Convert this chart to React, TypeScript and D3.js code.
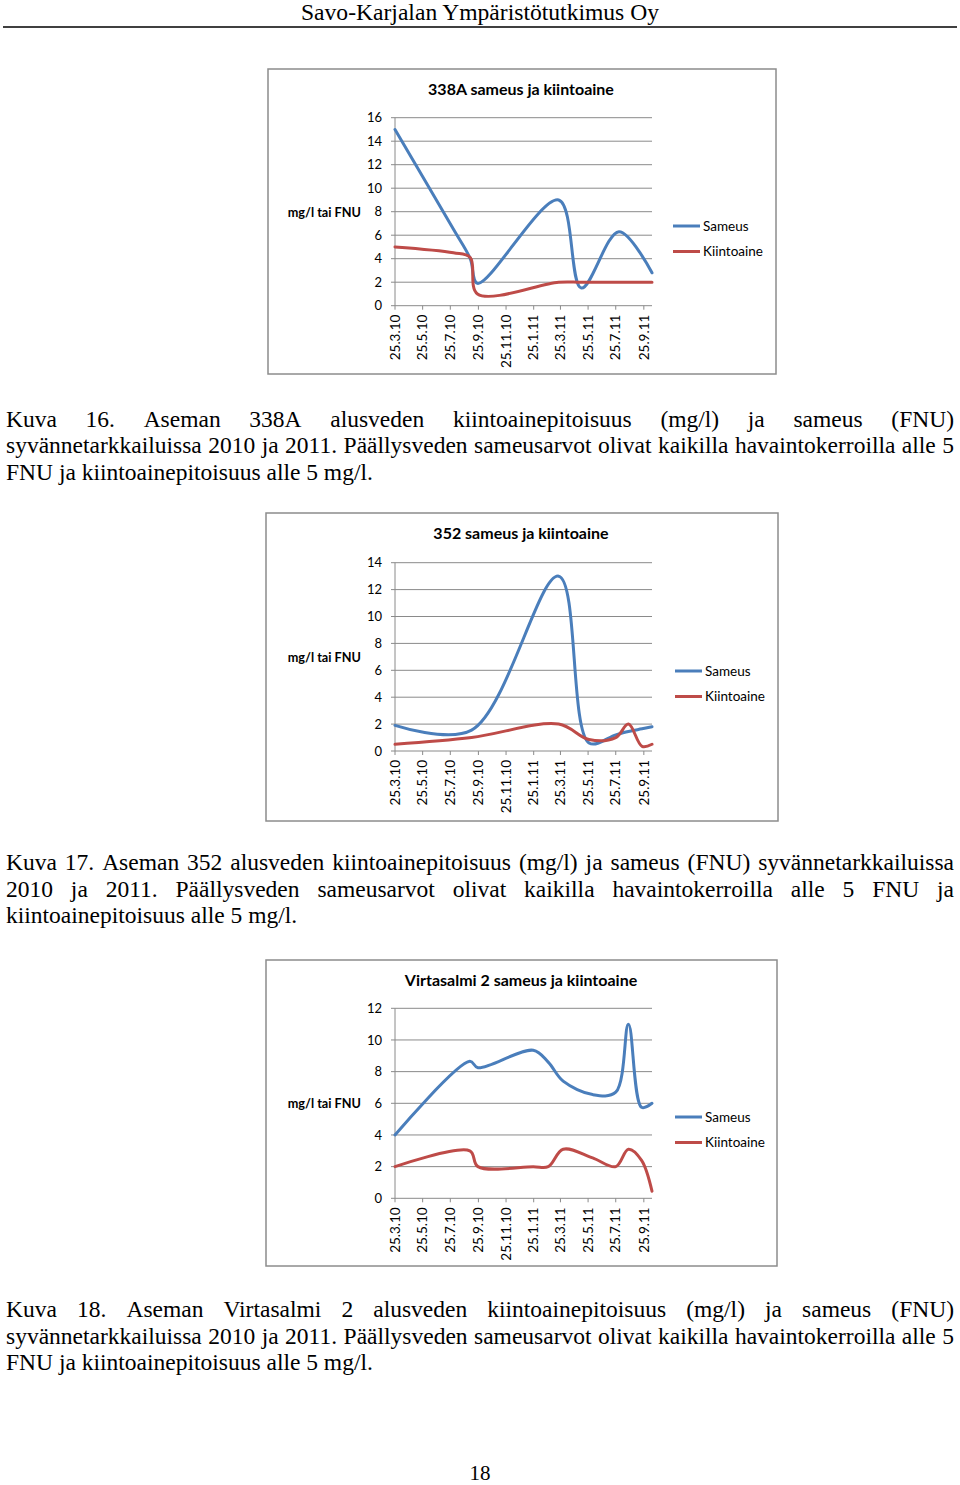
import React from "react";
import * as d3 from "d3";

// ---------- DATA ----------
const tickLabels = ["25.3.10", "25.5.10", "25.7.10", "25.9.10", "25.11.10", "25.1.11", "25.3.11", "25.5.11", "25.7.11", "25.9.11"];
const axisStart = "25.3.10";
const axisEnd = "13.10.11";
const seriesNames = ["Sameus", "Kiintoaine"];

const dates338A = ["25.3.10", "1.8.10", "7.9.10", "23.9.10", "21.3.11", "10.5.11", "1.8.11", "13.10.11"];
const sameus338A = [15.0, 6.5, 4.0, 1.9, 9.0, 1.5, 6.3, 2.8];
const kiinto338A = [5.0, 4.5, 4.1, 1.0, 2.0, 2.0, 2.0, 2.0];

const dates352 = ["25.3.10", "10.9.10", "21.3.11", "27.5.11", "25.7.11", "22.8.11", "21.9.11", "13.10.11"];
const sameus352 = [1.9, 1.55, 13.0, 0.6, 1.2, 1.45, 1.65, 1.8];
const kiinto352 = [0.5, 1.0, 2.0, 0.85, 1.0, 2.0, 0.35, 0.5];

const datesV2 = ["25.3.10", "6.9.10", "24.9.10", "24.1.11", "26.2.11", "31.3.11", "4.6.11", "25.7.11", "22.8.11", "20.9.11", "13.10.11"];
const sameusV2 = [4.0, 8.65, 8.25, 9.35, 8.6, 7.4, 6.55, 6.7, 11.0, 5.75, 6.0];
const kiintoV2 = [2.0, 3.0, 2.0, 2.0, 2.0, 3.1, 2.55, 2.0, 3.1, 2.4, 0.45];

const headerText = "Savo-Karjalan Ympäristötutkimus Oy";
const caption16 = [
  "Kuva 16. Aseman 338A alusveden kiintoainepitoisuus (mg/l) ja sameus (FNU)",
  "syvännetarkkailuissa 2010 ja 2011. Päällysveden sameusarvot olivat kaikilla havaintokerroilla alle 5",
  "FNU ja kiintoainepitoisuus alle 5 mg/l.",
];
const caption17 = [
  "Kuva 17. Aseman 352 alusveden kiintoainepitoisuus (mg/l) ja sameus (FNU) syvännetarkkailuissa",
  "2010 ja 2011. Päällysveden sameusarvot olivat kaikilla havaintokerroilla alle 5 FNU ja",
  "kiintoainepitoisuus alle 5 mg/l.",
];
const caption18 = [
  "Kuva 18. Aseman Virtasalmi 2 alusveden kiintoainepitoisuus (mg/l) ja sameus (FNU)",
  "syvännetarkkailuissa 2010 ja 2011. Päällysveden sameusarvot olivat kaikilla havaintokerroilla alle 5",
  "FNU ja kiintoainepitoisuus alle 5 mg/l.",
];
const pageNumber = "18";

// ---------- HELPERS ----------
const parseDate = (s: string) => {
  const [d, m, y] = s.split(".").map(Number);
  return new Date(2000 + y, m - 1, d);
};

const SERIF = "'Liberation Serif', 'Times New Roman', serif";
const SANS = "Lato, 'Open Sans', sans-serif";
const BLUE = "#4a7ebb";
const RED = "#be4b48";
const GRID = "#8a8a8a";

let _ctx: CanvasRenderingContext2D | null = null;
function textWidth(t: string, size: number, family: string) {
  if (!_ctx) _ctx = document.createElement("canvas").getContext("2d");
  _ctx!.font = `${size}px ${family}`;
  return _ctx!.measureText(t).width;
}

type ChartProps = {
  title: string;
  dates: string[];
  s1: number[];
  s2: number[];
  yMax: number;
  box: { x: number; y: number; w: number; h: number };
  y0: number;
  yTop: number;
  titleY: number;
  yTitleY: number;
  legendX: number;
  legendY: number;
};

function Chart(p: ChartProps) {
  const x0 = 395;
  const x1 = 652;
  const x = d3.scaleTime().domain([parseDate(axisStart), parseDate(axisEnd)]).range([x0, x1]);
  const y = d3.scaleLinear().domain([0, p.yMax]).range([p.y0, p.yTop]);
  const yTicks = d3.range(0, p.yMax + 0.001, 2);
  const pts1: [Date, number][] = p.dates.map((d, i) => [parseDate(d), p.s1[i]]);
  const pts2: [Date, number][] = p.dates.map((d, i) => [parseDate(d), p.s2[i]]);
  const line = d3
    .line<[Date, number]>()
    .x((d) => x(d[0]))
    .y((d) => y(d[1]))
    .curve(d3.curveCatmullRom.alpha(0.5));
  return (
    <g>
      <rect x={p.box.x} y={p.box.y} width={p.box.w} height={p.box.h} fill="#fff" stroke="#8c8c8c" strokeWidth={1.5} />
      <text x={521} y={p.titleY} textAnchor="middle" fontFamily={SANS} fontWeight="bold" fontSize={16} fill="#000">
        {p.title}
      </text>
      {yTicks.map((t) => (
        <g key={t}>
          <line x1={391} x2={x1} y1={y(t)} y2={y(t)} stroke={GRID} strokeWidth={1} />
          <text x={382} y={y(t)} dy="0.35em" textAnchor="end" fontFamily={SANS} fontSize={13} fill="#000">
            {t}
          </text>
        </g>
      ))}
      <line x1={x0} x2={x0} y1={p.yTop} y2={p.y0} stroke={GRID} strokeWidth={1} />
      {tickLabels.map((t) => {
        const tx = x(parseDate(t));
        return (
          <g key={t}>
            <line x1={tx} x2={tx} y1={p.y0} y2={p.y0 + 4} stroke={GRID} strokeWidth={1} />
            <text
              transform={`translate(${tx},${p.y0 + 9}) rotate(-90)`}
              dy="0.35em"
              textAnchor="end"
              fontFamily={SANS}
              fontSize={13.5}
              fill="#000"
            >
              {t}
            </text>
          </g>
        );
      })}
      <text x={361} y={p.yTitleY} dy="0.35em" textAnchor="end" fontFamily={SANS} fontWeight="bold" fontSize={12.7} fill="#000">
        mg/l tai FNU
      </text>
      <path d={line(pts1) || ""} fill="none" stroke={BLUE} strokeWidth={3} strokeLinecap="round" strokeLinejoin="round" />
      <path d={line(pts2) || ""} fill="none" stroke={RED} strokeWidth={3} strokeLinecap="round" strokeLinejoin="round" />
      {seriesNames.map((n, i) => (
        <g key={n}>
          <line
            x1={p.legendX}
            x2={p.legendX + 27}
            y1={p.legendY + i * 25.5}
            y2={p.legendY + i * 25.5}
            stroke={i === 0 ? BLUE : RED}
            strokeWidth={3}
          />
          <text x={p.legendX + 30} y={p.legendY + i * 25.5} dy="0.35em" fontFamily={SANS} fontSize={13.5} fill="#000">
            {n}
          </text>
        </g>
      ))}
    </g>
  );
}

function Caption({ lines, baselines, size, condensed }: { lines: string[]; baselines: number[]; size: number; condensed: boolean }) {
  const left = 6;
  const right = 954;
  const sx = condensed ? Math.min(1, (right - left) / textWidth(lines[0], size, SERIF)) : 1;
  return (
    <g>
      {lines.map((ln, li) => {
        const words = ln.split(" ");
        const widths = words.map((w) => textWidth(w, size, SERIF) * sx);
        const sum = widths.reduce((a, b) => a + b, 0);
        const justify = li < lines.length - 1;
        const gap = justify ? (right - left - sum) / (words.length - 1) : textWidth(" ", size, SERIF) * sx;
        let cx = left;
        return words.map((w, wi) => {
          const px = cx;
          cx += widths[wi] + gap;
          return (
            <text
              key={`${li}-${wi}`}
              transform={`translate(${px},${baselines[li]}) scale(${sx},1)`}
              fontFamily={SERIF}
              fontSize={size}
              fill="#000"
            >
              {w}
            </text>
          );
        });
      })}
    </g>
  );
}

export default function App() {
  const capSize = 367 / textWidth(caption16[2], 1, SERIF);
  return (
    <div style={{ position: "absolute", left: 0, top: 0 }}>
      <svg width={960} height={1485} style={{ display: "block", background: "#fff" }}>
        <rect x={0} y={0} width={960} height={1485} fill="#fff" />
        <text x={480} y={20} textAnchor="middle" fontFamily={SERIF} fontSize={24} textLength={358} lengthAdjust="spacingAndGlyphs" fill="#000">
          {headerText}
        </text>
        <line x1={3} x2={957} y1={27} y2={27} stroke="#000" strokeWidth={1.5} />

        <Chart
          title="338A sameus ja kiintoaine"
          dates={dates338A}
          s1={sameus338A}
          s2={kiinto338A}
          yMax={16}
          box={{ x: 268, y: 69, w: 508, h: 305 }}
          y0={305.7}
          yTop={117.7}
          titleY={95}
          yTitleY={213}
          legendX={673}
          legendY={226}
        />
        <Caption lines={caption16} baselines={[426.5, 453, 479.5]} size={capSize} condensed={false} />

        <Chart
          title="352 sameus ja kiintoaine"
          dates={dates352}
          s1={sameus352}
          s2={kiinto352}
          yMax={14}
          box={{ x: 266, y: 513, w: 512, h: 308 }}
          y0={751}
          yTop={562.7}
          titleY={539}
          yTitleY={658}
          legendX={675}
          legendY={671}
        />
        <Caption lines={caption17} baselines={[870, 897, 923]} size={capSize} condensed={true} />

        <Chart
          title="Virtasalmi 2 sameus ja kiintoaine"
          dates={datesV2}
          s1={sameusV2}
          s2={kiintoV2}
          yMax={12}
          box={{ x: 266, y: 960, w: 511, h: 306 }}
          y0={1198.3}
          yTop={1008.3}
          titleY={986}
          yTitleY={1104}
          legendX={675}
          legendY={1117}
        />
        <Caption lines={caption18} baselines={[1317, 1344, 1370]} size={capSize} condensed={false} />

        <text x={480} y={1480} textAnchor="middle" fontFamily={SERIF} fontSize={21} fill="#000">
          {pageNumber}
        </text>
      </svg>
    </div>
  );
}
